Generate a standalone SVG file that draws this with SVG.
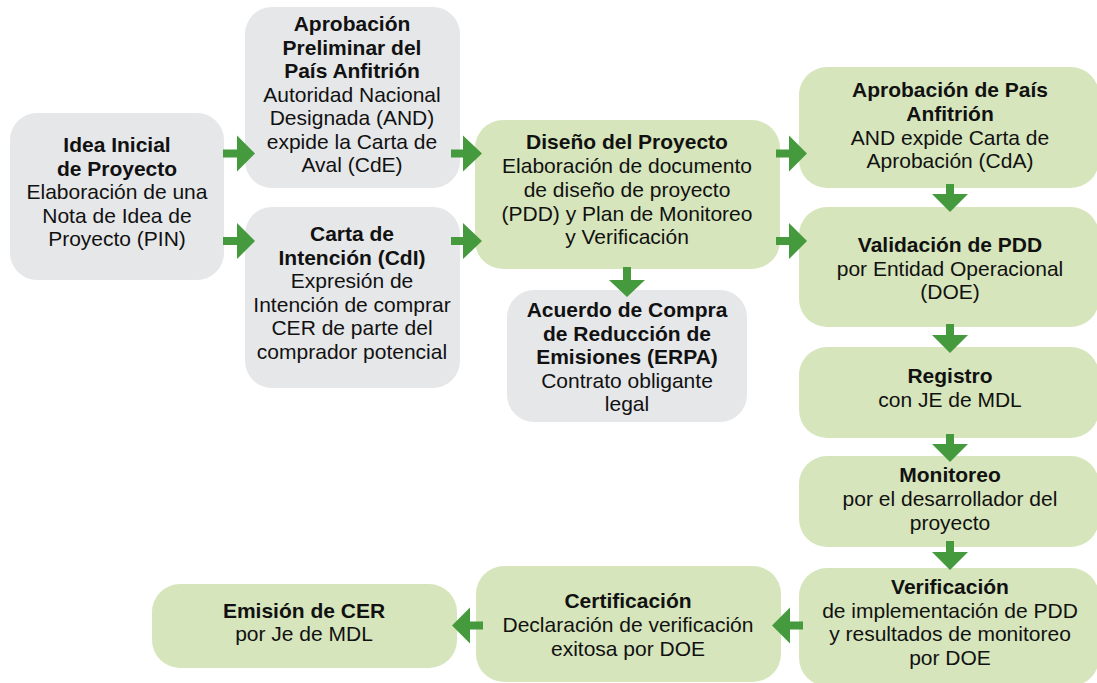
<svg xmlns="http://www.w3.org/2000/svg" width="1097" height="683" viewBox="0 0 1097 683">
<defs>
<style>
.g{fill:#e6e7e9}
.v{fill:#d6e5bb}
.a{fill:#449a3c}
text{font-family:"Liberation Sans",Arial,sans-serif;font-size:21px;fill:#111;text-anchor:middle}
.b{font-weight:bold}
</style>
</defs>
<rect width="1097" height="683" fill="#fff"/>
<g id="idea">
<rect class="g" x="10" y="113" width="214" height="167" rx="27"/>
<text x="117" y="152" class="b">Idea Inicial</text>
<text x="117" y="175.5" class="b">de Proyecto</text>
<text x="117" y="199">Elaboración de una</text>
<text x="117" y="222.5">Nota de Idea de</text>
<text x="117" y="246">Proyecto (PIN)</text>
</g>
<g id="aprob-prelim">
<rect class="g" x="245" y="7" width="215" height="181" rx="27"/>
<text x="352" y="31" class="b">Aprobación</text>
<text x="352" y="54.5" class="b">Preliminar del</text>
<text x="352" y="78" class="b">País Anfitrión</text>
<text x="352" y="101.5">Autoridad Nacional</text>
<text x="352" y="125">Designada (AND)</text>
<text x="352" y="148.5">expide la Carta de</text>
<text x="352" y="172">Aval (CdE)</text>
</g>
<g id="carta">
<rect class="g" x="245" y="207" width="215" height="181" rx="27"/>
<text x="352" y="241" class="b">Carta de</text>
<text x="352" y="264.5" class="b">Intención (CdI)</text>
<text x="352" y="288">Expresión de</text>
<text x="352" y="311.5">Intención de comprar</text>
<text x="352" y="335">CER de parte del</text>
<text x="352" y="358.5">comprador potencial</text>
</g>
<g id="diseno">
<rect class="v" x="475" y="120" width="305" height="149" rx="28"/>
<text x="627" y="149" class="b">Diseño del Proyecto</text>
<text x="627" y="173">Elaboración de documento</text>
<text x="627" y="197">de diseño de proyecto</text>
<text x="627" y="220.5">(PDD) y Plan de Monitoreo</text>
<text x="627" y="244">y Verificación</text>
</g>
<g id="erpa">
<rect class="g" x="507" y="290" width="240" height="132" rx="27"/>
<text x="627" y="317" class="b">Acuerdo de Compra</text>
<text x="627" y="340.5" class="b">de Reducción de</text>
<text x="627" y="364" class="b">Emisiones (ERPA)</text>
<text x="627" y="387.5">Contrato obligante</text>
<text x="627" y="411">legal</text>
</g>
<g id="aprob-pais">
<rect class="v" x="799" y="67" width="300" height="121" rx="28"/>
<text x="950" y="97" class="b">Aprobación de País</text>
<text x="950" y="121" class="b">Anfitrión</text>
<text x="950" y="144.5">AND expide Carta de</text>
<text x="950" y="168">Aprobación (CdA)</text>
</g>
<g id="validacion">
<rect class="v" x="799" y="207" width="300" height="120" rx="28"/>
<text x="950" y="252" class="b">Validación de PDD</text>
<text x="950" y="275.5">por Entidad Operacional</text>
<text x="950" y="299">(DOE)</text>
</g>
<g id="registro">
<rect class="v" x="799" y="347" width="300" height="91" rx="28"/>
<text x="950" y="383" class="b">Registro</text>
<text x="950" y="407">con JE de MDL</text>
</g>
<g id="monitoreo">
<rect class="v" x="799" y="456" width="300" height="91" rx="28"/>
<text x="950" y="482" class="b">Monitoreo</text>
<text x="950" y="506">por el desarrollador del</text>
<text x="950" y="529.5">proyecto</text>
</g>
<g id="verificacion">
<rect class="v" x="799" y="568" width="300" height="118" rx="28"/>
<text x="950" y="594" class="b">Verificación</text>
<text x="950" y="617.5">de implementación de PDD</text>
<text x="950" y="641">y resultados de monitoreo</text>
<text x="950" y="664.5">por DOE</text>
</g>
<g id="certificacion">
<rect class="v" x="476" y="566" width="305" height="116" rx="28"/>
<text x="628" y="608" class="b">Certificación</text>
<text x="628" y="632">Declaración de verificación</text>
<text x="628" y="656">exitosa por DOE</text>
</g>
<g id="emision">
<rect class="v" x="152" y="584" width="305" height="84" rx="28"/>
<text x="304" y="618" class="b">Emisión de CER</text>
<text x="304" y="641">por Je de MDL</text>
</g>
<g id="connectors">
<path class="a" d="M223,149.5h14v-14l18,18l-18,18v-14h-14z"/>
<path class="a" d="M223,237h14v-14l18,18l-18,18v-14h-14z"/>
<path class="a" d="M451,149.5h12v-14l19,18l-19,18v-14h-12z"/>
<path class="a" d="M451,237h12v-14l19,18l-19,18v-14h-12z"/>
<path class="a" d="M776,149.5h13v-14l18,18l-18,18v-14h-13z"/>
<path class="a" d="M776,237h13v-14l18,18l-18,18v-14h-13z"/>
<path class="a" d="M623,267v13h-14l18,17l18,-17h-14v-13z"/>
<path class="a" d="M946,184v10h-14l18,18l18,-18h-14v-10z"/>
<path class="a" d="M946,324v11h-14l18,18l18,-18h-14v-11z"/>
<path class="a" d="M946,434v10h-14l18,18l18,-18h-14v-10z"/>
<path class="a" d="M946,541v11h-14l18,18l18,-18h-14v-11z"/>
<path class="a" d="M803,621.5h-13v-14l-18,18l18,18v-14h13z"/>
<path class="a" d="M483,621.5h-13v-14l-18,18l18,18v-14h13z"/>
</g>
</svg>
